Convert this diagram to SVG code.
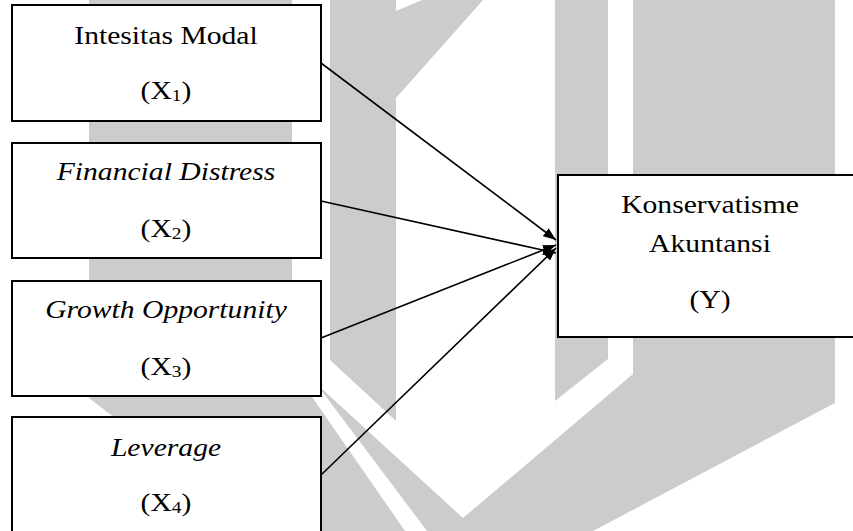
<svg xmlns="http://www.w3.org/2000/svg" width="853" height="531" viewBox="0 0 853 531">
<style>
.wm{fill:#cccccc;stroke:none}
.box{fill:#ffffff;stroke:#000000;stroke-width:2}
.t{font-family:"Liberation Serif","Times New Roman",serif;font-size:26px;fill:#000000;text-anchor:middle}
.i{font-style:italic}
.sub{font-size:17px}
.edge{fill:none;stroke:#000000;stroke-width:1.6;marker-end:url(#arr)}
</style>
<defs>
<marker id="arr" markerWidth="13" markerHeight="10" refX="13" refY="5" orient="auto" markerUnits="userSpaceOnUse">
<path d="M0,0 L13,5 L0,10 z" fill="#000000"/>
</marker>
</defs>
<rect x="0" y="0" width="853" height="531" fill="#ffffff"/>
<g id="watermark">
<polygon class="wm" points="89,0 292,0 292,368 405,531 262,531 89,398"/>
<polygon class="wm" points="330,0 396,0 396,11 422,0 483,0 396,98 396,421 330,360"/>
<polygon class="wm" points="555,0 608,0 608,359 555,401"/>
<polygon class="wm" points="321,388 463,518 633,374 633,0 835,0 835,403 593,531 427,531 321,390"/>
</g>
<g id="connectors">
<line class="edge" x1="321" y1="63" x2="556" y2="240"/>
<line class="edge" x1="321" y1="201" x2="556" y2="253"/>
<line class="edge" x1="321" y1="338" x2="556" y2="245"/>
<line class="edge" x1="321" y1="475" x2="556" y2="248"/>
</g>
<g id="x1">
<rect class="box" x="12" y="5" width="309" height="116"/>
<g transform="translate(166,44) scale(1.14,1)"><text class="t" x="0" y="0">Intesitas Modal</text></g>
<g transform="translate(166,99) scale(1.14,1)"><text class="t" x="0" y="0">(X<tspan class="sub" dy="2">1</tspan><tspan dy="-2">)</tspan></text></g>
</g>
<g id="x2">
<rect class="box" x="12" y="143" width="309" height="115"/>
<g transform="translate(166,180) scale(1.14,1)"><text class="t i" x="0" y="0">Financial Distress</text></g>
<g transform="translate(166,237) scale(1.14,1)"><text class="t" x="0" y="0">(X<tspan class="sub" dy="2">2</tspan><tspan dy="-2">)</tspan></text></g>
</g>
<g id="x3">
<rect class="box" x="12" y="281" width="309" height="115"/>
<g transform="translate(166,318) scale(1.14,1)"><text class="t i" x="0" y="0">Growth Opportunity</text></g>
<g transform="translate(166,375) scale(1.14,1)"><text class="t" x="0" y="0">(X<tspan class="sub" dy="2">3</tspan><tspan dy="-2">)</tspan></text></g>
</g>
<g id="x4">
<rect class="box" x="12" y="417" width="309" height="130"/>
<g transform="translate(166,456) scale(1.14,1)"><text class="t i" x="0" y="0">Leverage</text></g>
<g transform="translate(166,511) scale(1.14,1)"><text class="t" x="0" y="0">(X<tspan class="sub" dy="2">4</tspan><tspan dy="-2">)</tspan></text></g>
</g>
<g id="y">
<rect class="box" x="558" y="175" width="310" height="162"/>
<g transform="translate(710,213) scale(1.14,1)"><text class="t" x="0" y="0">Konservatisme</text></g>
<g transform="translate(710,252) scale(1.14,1)"><text class="t" x="0" y="0">Akuntansi</text></g>
<g transform="translate(710,308) scale(1.14,1)"><text class="t" x="0" y="0">(Y)</text></g>
</g>
</svg>
